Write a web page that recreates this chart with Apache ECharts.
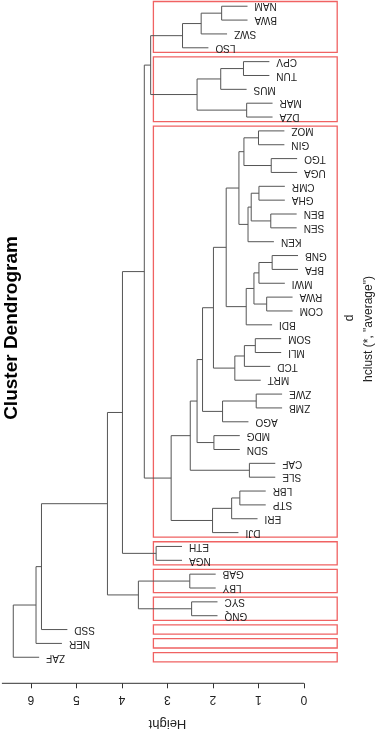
<!DOCTYPE html>
<html>
<head>
<meta charset="utf-8">
<script src="https://cdn.jsdelivr.net/npm/echarts@6/dist/echarts.min.js"></script>
<style>
  html, body { margin: 0; padding: 0; background: #fff; }
  #dendro { width: 378px; height: 730px; }
</style>
</head>
<body>
<div id="dendro"></div>
<script>
// leaves in plotted order (top to bottom)
var leaves = ['NAM', 'BWA', 'SWZ', 'LSO', 'CPV', 'TUN', 'MUS', 'MAR', 'DZA',
  'MOZ', 'GIN', 'TGO', 'UGA', 'CMR', 'GHA', 'BEN', 'SEN', 'KEN',
  'GNB', 'BFA', 'MWI', 'RWA', 'COM', 'BDI', 'SOM', 'MLI', 'TCD', 'MRT',
  'ZWE', 'ZMB', 'AGO', 'MDG', 'SDN', 'CAF', 'SLE', 'LBR', 'STP', 'ERI', 'DJI',
  'ETH', 'NGA', 'GAB', 'LBY', 'SYC', 'GNQ', 'SSD', 'NER', 'ZAF'];

// merge table like hclust: negative = leaf number, positive = earlier merge row
var mergeA = [-1, 1, 2, -5, 4, -8, 5, 3, -10, -12, 9, -14, -16, 12, 14, 11,
  -19, 17, -22, 18, 20, 16, -25, 23, 24, 22, -29, 27, 26, -32, 29, -34, 31,
  -36, 34, 35, 33, 8, -40, 38, -42, -44, 41, 40, 44, 45, 46];
var mergeB = [-2, -3, -4, -6, -7, -9, 6, 7, -11, -13, 10, -15, -17, 13, -18, 15,
  -20, -21, -23, 19, -24, 21, -26, -27, -28, 25, -30, -31, 28, -33, 30, -35, 32,
  -37, -38, -39, 36, 37, -41, 39, -43, -45, 42, 43, -46, -47, -48];
var mergeHeight = [1.81, 2.26, 2.67, 1.33, 1.83, 1.26, 2.35, 3.37, 1.00, 0.72,
  1.32, 0.99, 0.73, 1.16, 1.23, 1.43, 0.70, 0.99, 0.82, 1.10, 1.27, 1.71, 1.07,
  1.31, 1.52, 1.99, 1.05, 1.79, 2.23, 1.98, 2.35, 1.20, 2.50, 1.41, 1.59, 2.01,
  2.92, 3.51, 3.25, 3.99, 2.51, 2.47, 3.64, 4.32, 5.77, 5.89, 6.39];

var heightTicks = [0, 1, 2, 3, 4, 5, 6];
var clusterCount = 9;
var hang = 0.1;

var hMax = Math.max.apply(null, mergeHeight);
var hMin = Math.min.apply(null, mergeHeight);
var hangLen = hang * (hMax - hMin);
var xMin = -0.73, xMax = 6.64;
var yMin = 0.55, yMax = 49.88;

// node positions
var nodePos = [];
function pos(ref) { return ref < 0 ? -ref : nodePos[ref - 1]; }
function topOf(ref, parentH) { return ref < 0 ? parentH - hangLen : mergeHeight[ref - 1]; }
var links = [];
var leafEnd = [];
mergeHeight.forEach(function (h, k) {
  var a = mergeA[k], b = mergeB[k];
  nodePos[k] = (pos(a) + pos(b)) / 2;
  links.push([topOf(a, h), pos(a), h, pos(b), topOf(b, h)]);
  if (a < 0) leafEnd[-a - 1] = h - hangLen;
  if (b < 0) leafEnd[-b - 1] = h - hangLen;
});
var leafData = leaves.map(function (name, i) { return [leafEnd[i], i + 1]; });

// rect.hclust style boxes
var sortedH = mergeHeight.slice().sort(function (a, b) { return b - a; });
var cut = (sortedH[clusterCount - 2] + sortedH[clusterCount - 1]) / 2;
function span(ref) {
  if (ref < 0) return [-ref, -ref];
  var s1 = span(mergeA[ref - 1]), s2 = span(mergeB[ref - 1]);
  return [Math.min(s1[0], s2[0]), Math.max(s1[1], s2[1])];
}
var boxes = [];
function walk(ref) {
  if (ref > 0 && mergeHeight[ref - 1] > cut) {
    walk(mergeA[ref - 1]);
    walk(mergeB[ref - 1]);
  } else {
    var s = span(ref);
    boxes.push([cut, s[0] - 0.34, xMin, s[1] + 0.33]);
  }
}
walk(mergeHeight.length);

var chart = echarts.init(document.getElementById('dendro'));

var option = {
  animation: false,
  grid: { left: 1.9, right: 40.8, top: 0, bottom: 46.7 },
  xAxis: {
    type: 'value',
    inverse: true,
    min: xMin,
    max: xMax,
    splitLine: { show: false },
    axisLine: { show: false },
    axisTick: { show: true, customValues: heightTicks, length: 5, lineStyle: { color: '#333' } },
    axisLabel: {
      customValues: heightTicks,
      rotate: 180,
      margin: 10,
      color: '#222',
      fontSize: 12,
      fontFamily: 'Liberation Sans'
    }
  },
  yAxis: { type: 'value', inverse: true, min: yMin, max: yMax, show: false },
  graphic: [
    { type: 'text', x: 12, y: 328, rotation: Math.PI / 2,
      style: { text: 'Cluster Dendrogram', font: 'bold 19px "Liberation Sans"', fill: '#000', align: 'center', verticalAlign: 'middle' } },
    { type: 'text', x: 167.5, y: 724, rotation: Math.PI,
      style: { text: 'Height', font: '13px "Liberation Sans"', fill: '#222', align: 'center', verticalAlign: 'middle' } },
    { type: 'text', x: 350, y: 318, rotation: Math.PI / 2,
      style: { text: 'd', font: '12px "Liberation Sans"', fill: '#222', align: 'center', verticalAlign: 'middle' } },
    { type: 'text', x: 369, y: 329, rotation: Math.PI / 2,
      style: { text: 'hclust (*, "average")', font: '12px "Liberation Sans"', fill: '#222', align: 'center', verticalAlign: 'middle' } }
  ],
  series: [
    {
      type: 'custom',
      name: 'boxes',
      data: boxes,
      encode: { x: [0, 2], y: [1, 3] },
      renderItem: function (params, api) {
        var p1 = api.coord([api.value(0), api.value(1)]);
        var p2 = api.coord([api.value(2), api.value(3)]);
        return {
          type: 'rect',
          shape: { x: p1[0], y: p1[1], width: p2[0] - p1[0], height: p2[1] - p1[1] },
          style: { fill: null, stroke: '#f06262', lineWidth: 1.3 }
        };
      }
    },
    {
      type: 'custom',
      name: 'tree',
      data: links,
      encode: { x: [0, 2, 4], y: [1, 3] },
      renderItem: function (params, api) {
        var pts = [
          api.coord([api.value(0), api.value(1)]),
          api.coord([api.value(2), api.value(1)]),
          api.coord([api.value(2), api.value(3)]),
          api.coord([api.value(4), api.value(3)])
        ];
        return { type: 'polyline', shape: { points: pts }, style: { fill: null, stroke: '#555', lineWidth: 1 } };
      }
    },
    {
      type: 'custom',
      name: 'labels',
      data: leafData,
      encode: { x: 0, y: 1 },
      renderItem: function (params, api) {
        var p = api.coord([api.value(0), api.value(1)]);
        return {
          type: 'text',
          x: p[0] + 7,
          y: p[1],
          rotation: Math.PI,
          style: { text: leaves[params.dataIndex], align: 'right', verticalAlign: 'middle', font: '10px "Liberation Sans"', fill: '#222' }
        };
      }
    },
    {
      type: 'custom',
      name: 'axisRule',
      clip: false,
      data: [[heightTicks[0], yMax, xMax]],
      encode: { x: [0, 2], y: 1 },
      renderItem: function (params, api) {
        var a = api.coord([api.value(0), api.value(1)]);
        var b = api.coord([api.value(2), api.value(1)]);
        return { type: 'line', shape: { x1: a[0], y1: a[1], x2: b[0], y2: b[1] }, style: { stroke: '#333', lineWidth: 1 } };
      }
    }
  ]
};

chart.setOption(option);
</script>
</body>
</html>
